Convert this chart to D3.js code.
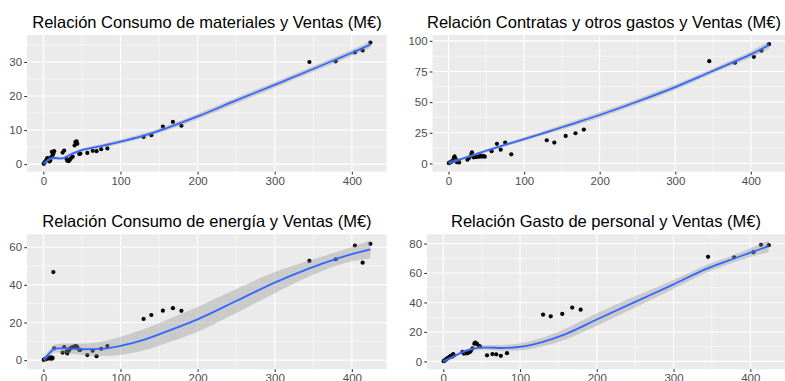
<!DOCTYPE html>
<meta charset='utf-8'>
<head>
    <title>Relaciones con Ventas</title>
    <script src='https://cdn.jsdelivr.net/npm/d3@7'></script>
</head>

<style>
    body { margin: 0; background: #fff; }
    text { font-family: 'Liberation Sans', Arial, sans-serif; }
    .title { font-size: 16.5px; fill: #000; text-anchor: middle; }
    .bg { fill: #EBEBEB; }
    .grid-major { stroke: #fff; stroke-width: 1.07px; }
    .grid-minor { stroke: #fff; stroke-width: 0.53px; }
    .dot { fill: #000; }
    .ribbon { fill: #999; fill-opacity: 0.4; }
    .fit { fill: none; stroke: #3366FF; stroke-width: 1.8px; }
</style>

<svg></svg>

<script>
    var vWidth = 785;
    var vHeight = 381;

    // Ventas (M€) for every company, x of every panel
    var vVentas = [345, 379, 404, 414, 424, 130, 140, 155, 168, 179, 48, 57, 64, 69, 75, 83,
        0.5, 1, 2, 3, 4, 5, 6, 7, 8, 9, 10, 11, 12, 13, 14, 25, 27, 30, 31, 33, 34.5, 36, 38, 40.5, 41.5, 43, 44, 46.5];
    var vMateriales = [30.0, 30.2, 32.8, 33.4, 35.7, 8.0, 8.5, 11.0, 12.4, 11.3, 3.1, 3.3, 3.9, 3.8, 4.4, 4.6,
        0.1, 0.3, 0.6, 0.9, 1.2, 1.8, 1.3, 1.6, 0.8, 1.1, 2.0, 3.6, 2.6, 3.2, 3.8, 3.4, 4.0, 1.6, 1.0, 0.9, 1.3, 1.8, 2.2, 5.5, 6.5, 6.7, 6.0, 3.0];
    var vContratas = [83.4, 82.2, 87.0, 92.0, 97.3, 18.9, 17.0, 22.4, 24.6, 27.6, 5.5, 10.0, 16.0, 11.2, 17.0, 7.4,
        0.2, 0.4, 0.8, 1.0, 1.5, 1.8, 2.3, 4.5, 5.7, 4.0, 3.0, 1.0, 1.5, 2.0, 0.8, 3.0, 4.5, 7.0, 9.0, 5.0, 6.0, 5.2, 5.5, 5.5, 6.0, 6.3, 5.6, 6.0];
    var vEnergia = [52.7, 53.6, 60.9, 51.8, 61.8, 21.9, 24.0, 26.3, 27.6, 26.2, 5.5, 2.7, 5.0, 2.1, 6.0, 7.5,
        0.1, 0.3, 0.5, 0.8, 0.6, 1.0, 1.2, 0.9, 1.3, 0.9, 1.5, 0.8, 1.2, 46.8, 6.3, 4.0, 7.0, 4.5, 3.6, 5.0, 6.0, 6.5, 7.0, 7.2, 7.5, 7.3, 7.0, 5.5];
    var vPersonal = [71.0, 70.7, 74.1, 79.1, 78.9, 31.7, 30.6, 32.2, 36.5, 35.1, 10.0, 4.1, 5.0, 4.8, 3.8, 5.6,
        0.1, 0.3, 0.7, 1.0, 1.5, 1.9, 2.2, 2.6, 3.0, 3.4, 3.8, 3.1, 4.3, 5.0, 4.0, 6.5, 5.2, 6.5, 5.5, 6.0, 6.4, 7.2, 8.8, 12.0, 12.7, 12.2, 11.8, 10.5];

    // Loess fit: x, fitted value, half width of the band
    var vFitMatX = [0, 5, 10, 15, 20, 25, 30, 40, 50, 75, 100, 130, 160, 200, 250, 300, 345, 380, 400, 424];
    var vFitMatY = [0.1, 1.0, 1.7, 1.8, 1.7, 1.7, 2.2, 3.3, 4.1, 5.3, 6.6, 8.4, 10.6, 14.0, 18.7, 23.3, 27.5, 30.8, 32.7, 35.1];
    var vFitMatSe = [0.5, 0.5, 0.5, 0.5, 0.5, 0.5, 0.5, 0.5, 0.5, 0.55, 0.6, 0.65, 0.7, 0.8, 0.9, 0.85, 0.8, 0.85, 0.9, 1.0];

    var vFitConX = [0, 10, 25, 50, 75, 100, 130, 160, 200, 250, 300, 345, 380, 400, 424];
    var vFitConY = [0.3, 2.2, 5.2, 10.4, 15.2, 19.8, 25.5, 31.5, 39.5, 50.5, 62.3, 74.2, 83.5, 89.0, 96.5];
    var vFitConSe = [2.0, 1.5, 1.3, 1.2, 1.3, 1.5, 1.8, 2.0, 2.2, 2.3, 2.2, 2.0, 2.2, 2.5, 3.2];

    var vFitEneX = [0, 3, 6, 10, 14, 18, 25, 35, 50, 75, 100, 130, 160, 200, 250, 300, 345, 380, 400, 424];
    var vFitEneY = [0.2, 1.3, 2.8, 4.6, 6.0, 6.3, 6.3, 6.1, 5.8, 6.0, 7.6, 10.8, 15.3, 21.7, 31.4, 41.2, 48.8, 53.8, 56.3, 58.8];
    var vFitEneSe = [1.8, 1.8, 1.8, 1.8, 2.0, 2.2, 2.5, 2.7, 3.0, 3.8, 4.8, 5.6, 6.2, 6.6, 6.4, 5.6, 4.2, 3.6, 3.8, 4.8];

    var vFitPerX = [0, 10, 25, 40, 50, 60, 75, 100, 130, 160, 200, 250, 300, 345, 380, 400, 424];
    var vFitPerY = [0.0, 2.5, 6.3, 8.8, 9.4, 9.4, 9.1, 9.9, 13.3, 18.7, 28.4, 40.4, 52.3, 63.3, 70.0, 73.8, 78.2];
    var vFitPerSe = [1.2, 1.0, 1.0, 1.2, 1.5, 1.7, 2.0, 2.4, 3.0, 3.6, 4.2, 3.8, 3.0, 2.6, 2.6, 3.0, 3.9];

    // Tick labels
    var vXTicks = [0, 100, 200, 300, 400];
    var vYTicksMat = [0, 10, 20, 30];
    var vYTicksCon = [0, 25, 50, 75, 100];
    var vYTicksEne = [0, 20, 40, 60];
    var vYTicksPer = [0, 20, 40, 60, 80];

    // Panels, with their place on the page
    var vPanels = [
        {title: 'Relación Consumo de materiales y Ventas (M€)', y: vMateriales, fitX: vFitMatX, fitY: vFitMatY, fitSe: vFitMatSe,
            yTicks: vYTicksMat, box: {l: 27, t: 35, r: 386.7, b: 171.7}, titleX: 207, titleY: 27.5},
        {title: 'Relación Contratas y otros gastos y Ventas (M€)', y: vContratas, fitX: vFitConX, fitY: vFitConY, fitSe: vFitConSe,
            yTicks: vYTicksCon, box: {l: 432.5, t: 35, r: 785, b: 171.7}, titleX: 604, titleY: 27.5},
        {title: 'Relación Consumo de energía y Ventas (M€)', y: vEnergia, fitX: vFitEneX, fitY: vFitEneY, fitSe: vFitEneSe,
            yTicks: vYTicksEne, box: {l: 27, t: 234.3, r: 386.7, b: 369.3}, titleX: 207, titleY: 226.5},
        {title: 'Relación Gasto de personal y Ventas (M€)', y: vPersonal, fitX: vFitPerX, fitY: vFitPerY, fitSe: vFitPerSe,
            yTicks: vYTicksPer, box: {l: 427, t: 234.3, r: 785, b: 369.3}, titleX: 606, titleY: 226.5}
    ];

    var svg = d3.select('svg').attr('width', vWidth).attr('height', vHeight);

    vPanels.forEach(drawPanel);

    // ggplot style 5% expansion of a data range
    function expand(vals) {
        var lo = d3.min(vals), hi = d3.max(vals), d = (hi - lo) * 0.05;
        return [lo - d, hi + d];
    }

    // midpoints between major ticks that fall inside the domain
    function minorTicks(ticks, domain) {
        var step = ticks[1] - ticks[0];
        var out = [];
        for (var v = ticks[0] - step / 2; v <= domain[1]; v += step) {
            if (v >= domain[0]) out.push(v);
        }
        return out;
    }

    /**
     * Draw one scatter panel with its smooth
     */
    function drawPanel(p) {
        var b = p.box;
        var g = svg.append('g');

        var lo = p.fitY.map(function (v, i) { return v - p.fitSe[i]; });
        var hi = p.fitY.map(function (v, i) { return v + p.fitSe[i]; });

        var x = d3.scaleLinear().domain(expand(vVentas.concat(p.fitX))).range([b.l, b.r]);
        var y = d3.scaleLinear().domain(expand(p.y.concat(lo, hi))).range([b.b, b.t]);

        g.append('rect').attr('class', 'bg')
            .attr('x', b.l).attr('y', b.t).attr('width', b.r - b.l).attr('height', b.b - b.t);

        // Grid
        g.selectAll('.gx-minor').data(minorTicks(vXTicks, x.domain())).enter().append('line')
            .attr('class', 'grid-minor')
            .attr('x1', x).attr('x2', x).attr('y1', b.t).attr('y2', b.b);
        g.selectAll('.gy-minor').data(minorTicks(p.yTicks, y.domain())).enter().append('line')
            .attr('class', 'grid-minor')
            .attr('x1', b.l).attr('x2', b.r).attr('y1', y).attr('y2', y);
        g.selectAll('.gx-major').data(vXTicks).enter().append('line')
            .attr('class', 'grid-major')
            .attr('x1', x).attr('x2', x).attr('y1', b.t).attr('y2', b.b);
        g.selectAll('.gy-major').data(p.yTicks).enter().append('line')
            .attr('class', 'grid-major')
            .attr('x1', b.l).attr('x2', b.r).attr('y1', y).attr('y2', y);

        // Points
        g.selectAll('circle').data(vVentas).enter().append('circle')
            .attr('class', 'dot')
            .attr('cx', function (d) { return x(d); })
            .attr('cy', function (d, i) { return y(p.y[i]); })
            .attr('r', 2.1);

        // Smooth band and line
        var idx = d3.range(p.fitX.length);
        var vArea = d3.area()
            .x(function (i) { return x(p.fitX[i]); })
            .y0(function (i) { return y(lo[i]); })
            .y1(function (i) { return y(hi[i]); })
            .curve(d3.curveMonotoneX);
        var vLine = d3.line()
            .x(function (i) { return x(p.fitX[i]); })
            .y(function (i) { return y(p.fitY[i]); })
            .curve(d3.curveMonotoneX);
        g.append('path').attr('class', 'ribbon').attr('d', vArea(idx));
        g.append('path').attr('class', 'fit').attr('d', vLine(idx));

        // Axes
        var ax = g.append('g').attr('transform', 'translate(0,' + b.b + ')')
            .call(d3.axisBottom(x).tickValues(vXTicks).tickSize(2.75).tickPadding(2.2).tickSizeOuter(0));
        var ay = g.append('g').attr('transform', 'translate(' + b.l + ',0)')
            .call(d3.axisLeft(y).tickValues(p.yTicks).tickSize(2.75).tickPadding(2.2).tickSizeOuter(0));
        [ax, ay].forEach(function (a) {
            a.select('.domain').remove();
            a.selectAll('line').attr('stroke', '#333333').attr('stroke-width', 1.07);
            a.selectAll('text').attr('fill', '#4D4D4D')
                .style('font-size', '11.5px')
                .style('font-family', "'Liberation Sans', Arial, sans-serif");
        });

        g.append('text').attr('class', 'title')
            .attr('x', p.titleX).attr('y', p.titleY)
            .text(p.title);
    }
</script>
